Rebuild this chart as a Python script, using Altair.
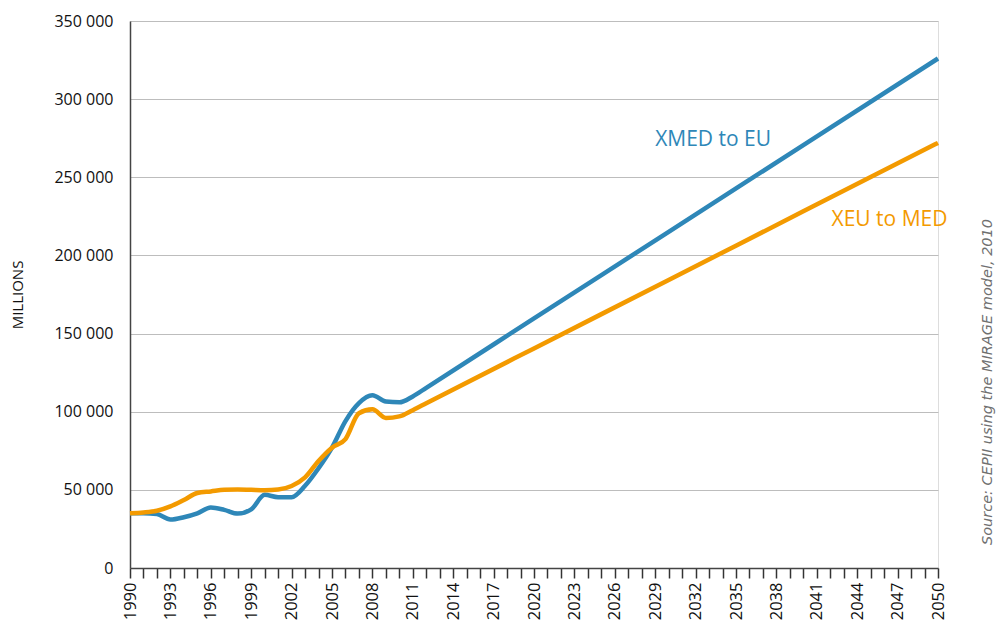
import altair as alt
import pandas as pd

years = [1990, 1991, 1992, 1993, 1994, 1995, 1996, 1997, 1998, 1999, 2000,
         2001, 2002, 2003, 2004, 2005, 2006, 2007, 2008, 2009, 2010, 2011,
         2012, 2020, 2030, 2040, 2050]
xmed_to_eu = [35000, 35000, 34500, 31000, 32500, 35000, 38700, 37200, 34800, 37500, 46800,
              45300, 45300, 52600, 63800, 77000, 94000, 105500, 110500, 106500, 106000, 109800,
              115300, 159700, 215100, 270600, 326000]
xeu_to_med = [35000, 35500, 36600, 39400, 43500, 48000, 49000, 50000, 50300, 50000, 49700,
              50200, 52500, 58000, 68500, 77000, 82500, 99000, 101500, 96000, 97000, 101000,
              105400, 140500, 184300, 228200, 272000]

series_names = ["XMED to EU", "XEU to MED"]
series_colors = ["#2E87B8", "#F39A00"]

rows = []
for y, a, b in zip(years, xmed_to_eu, xeu_to_med):
    rows.append({"year": y, "value": a, "series": series_names[0]})
    rows.append({"year": y, "value": b, "series": series_names[1]})
df = pd.DataFrame(rows)

label_years = [2033.3, 2046.4]
label_values = [274000, 222500]
labels_df = pd.DataFrame({"year": label_years, "value": label_values, "series": series_names})

tick_years = list(range(1990, 2051))
y_ticks = list(range(0, 350001, 50000))

x_scale = alt.Scale(domain=[1990, 2050], nice=False, zero=False)
y_scale = alt.Scale(domain=[0, 350000], nice=False)
color_scale = alt.Scale(domain=series_names, range=series_colors)

x_axis = alt.Axis(values=tick_years, title=None, grid=False,
                  labelExpr="(datum.value - 1990) % 3 == 0 ? format(datum.value, 'd') : ''",
                  labelAngle=-90, labelFontSize=16.5, labelColor="#111",
                  labelFont="Open Sans", labelPadding=4,
                  tickSize=10, tickColor="#333", tickWidth=1.5,
                  domainColor="#444", domainWidth=1.5, labelOverlap=False,
                  labelFlush=False, labelBound=False)
y_axis = alt.Axis(values=y_ticks, title="MILLIONS", titleFontSize=15,
                  titleFont="Open Sans", titleFontWeight="normal", titleColor="#111",
                  titlePadding=28,
                  labelExpr="datum.value == 0 ? '0' : format(datum.value / 1000, 'd') + ' 000'",
                  labelFontSize=16, labelFont="Open Sans", labelColor="#111",
                  labelPadding=17, ticks=False, grid=True, gridColor="#BDBDBD",
                  gridWidth=1, domainColor="#444", domainWidth=1.5)

lines = alt.Chart(df).mark_line(strokeWidth=4.5, interpolate="monotone", strokeCap="butt").encode(
    x=alt.X("year:Q", scale=x_scale, axis=x_axis),
    y=alt.Y("value:Q", scale=y_scale, axis=y_axis),
    color=alt.Color("series:N", scale=color_scale, legend=None),
)

labels = alt.Chart(labels_df).mark_text(fontSize=21, font="Open Sans", align="center",
                                         baseline="middle").encode(
    x=alt.X("year:Q", scale=x_scale, axis=x_axis),
    y=alt.Y("value:Q", scale=y_scale, axis=y_axis),
    text="series:N",
    color=alt.Color("series:N", scale=color_scale, legend=None),
)

source = alt.Chart(pd.DataFrame({"t": ["Source: CEPII using the MIRAGE model, 2010"]})).mark_text(
    angle=270, fontSize=14.5, fontStyle="italic", font="DejaVu Sans", color="#707070",
    align="center", baseline="middle").encode(
    x=alt.value(858), y=alt.value(361), text="t:N")

chart = alt.layer(lines, labels, source).properties(
    width=808, height=547,
    autosize=alt.AutoSizeParams(type="none"),
    padding={"left": 122, "top": 13, "right": 58, "bottom": 52},
).configure_view(strokeWidth=0).configure(background="white")

chart.save("out.html", embed_options={"renderer": "svg", "actions": False})
